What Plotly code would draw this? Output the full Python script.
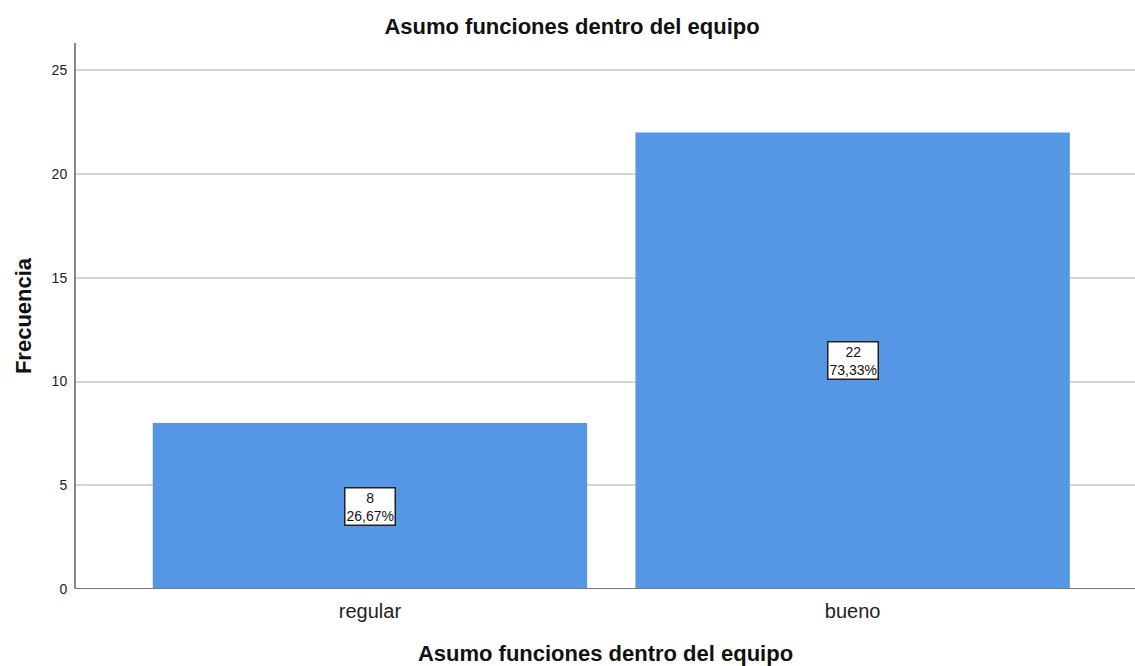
import plotly.graph_objects as go

categories = ["regular", "bueno"]
counts = [8, 22]
percents = ["26,67%", "73,33%"]
title = "Asumo funciones dentro del equipo"

xpos = list(range(len(categories)))
fig = go.Figure()
fig.add_trace(go.Bar(
    x=xpos, y=counts, width=0.9,
    marker=dict(color="#5596E5", line=dict(width=0)),
    hoverinfo="skip", showlegend=False,
))

for xi, c, p in zip(xpos, counts, percents):
    fig.add_annotation(
        x=xi, y=c / 2, xref="x", yref="y",
        text=f"{c}<br>{p}", showarrow=False,
        font=dict(family="Liberation Sans, Arial", size=14, color="#111"),
        bgcolor="white", bordercolor="#222", borderwidth=1.5, borderpad=1,
        align="center",
    )

fig.update_layout(
    width=1135, height=666,
    margin=dict(l=76, r=0, t=43, b=77),
    paper_bgcolor="white", plot_bgcolor="white",
    font=dict(family="Liberation Sans, Arial", color="#111"),
    title=dict(text=f"<b>{title}</b>", x=0.504, xanchor="center", y=0.96, yanchor="middle",
               font=dict(size=22, color="#111")),
    xaxis=dict(
        tickmode="array", tickvals=xpos, ticktext=categories,
        range=[-0.609, 1.585], showgrid=False, zeroline=False,
        showline=False, ticks="", tickfont=dict(size=20, color="#222"),
        ticklabelstandoff=8,
        title=dict(text=f"<b>{title}</b>", font=dict(size=22, color="#111"), standoff=28),
    ),
    yaxis=dict(
        range=[0, 26.32], tickvals=[0, 5, 10, 15, 20, 25],
        showgrid=True, gridcolor="#D4D4D4", gridwidth=1.5,
        zeroline=False, showline=True, linecolor="#888", linewidth=2,
        ticks="", tickfont=dict(size=14, color="#222"), ticklabelstandoff=4,
        title=dict(text="<b>Frecuencia</b>", font=dict(size=22, color="#111"), standoff=14),
    ),
)
fig.add_shape(type="line", xref="paper", yref="y", x0=0, x1=1, y0=0, y1=0,
              line=dict(color="#777", width=2), layer="above")

fig.write_html("out.html")
